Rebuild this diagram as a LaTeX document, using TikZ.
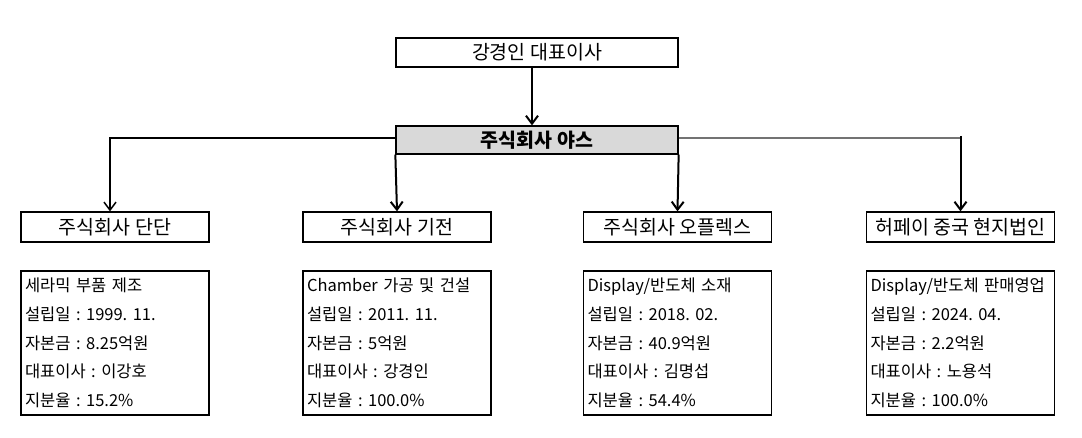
\documentclass[tikz,border=0pt]{standalone}
\usepackage{fontspec}
\setmainfont{Noto Sans CJK KR}
\newfontfamily\infofont[WordSpace=2.4]{Noto Sans CJK KR}
\usetikzlibrary{arrows.meta}

\begin{document}
\begin{tikzpicture}[
			x=1pt, y=-1pt,
			unit/.style={rectangle,draw=black,line width=1.3pt,inner sep=0pt,
			minimum width=188pt,minimum height=30pt,
			font=\fontsize{19.5pt}{24pt}\selectfont},
			info/.style={rectangle,draw=black,line width=1.3pt,inner ysep=0pt,inner xsep=4pt,
			text width=180pt,minimum height=144pt,align=left,
			font=\infofont\frenchspacing\fontsize{16.5pt}{28.75pt}\selectfont},
			link/.style={>={Straight Barb[length=8pt,width=12pt]},draw=black,line width=2pt,->},
			branch/.style={draw=black!55,line width=1.5pt}
			]
			\useasboundingbox (0,0) rectangle (1082,438);
			\node[unit, minimum width=282pt, minimum height=29pt] (ceo) at (537,52.5) {강경인 대표이사};
			\node[unit, minimum width=282pt, minimum height=28pt, fill=black!15,
				font=\fontsize{19.5pt}{24pt}\selectfont\bfseries] (yas) at (537,140) {주식회사 야스};
			\node[unit] (dandan) at (115,227) {주식회사 단단};
			\node[unit] (kijeon) at (397,227) {주식회사 기전};
			\node[unit] (oplex) at (677.5,227) {주식회사 오플렉스};
			\node[unit] (hefei) at (960.5,227) {허페이 중국 현지법인};
			\node[info] (dandaninfo) at (115,343) {세라믹 부품 제조\\설립일 : 1999. 11.\\자본금 : 8.25억원\\대표이사 : 이강호\\지분율 : 15.2\%};
			\node[info] (kijeoninfo) at (397,343) {Chamber 가공 및 건설\\설립일 : 2011. 11.\\자본금 : 5억원\\대표이사 : 강경인\\지분율 : 100.0\%};
			\node[info] (oplexinfo) at (677.5,343) {Display/반도체 소재\\설립일 : 2018. 02.\\자본금 : 40.9억원\\대표이사 : 김명섭\\지분율 : 54.4\%};
			\node[info] (hefeiinfo) at (960.5,343) {Display/반도체 판매영업\\설립일 : 2024. 04.\\자본금 : 2.2억원\\대표이사 : 노용석\\지분율 : 100.0\%};
			\draw[link] ([xshift=-5pt]ceo.south) -- ([xshift=-5pt]yas.north);
			\draw[link, line width=1.5pt] ([yshift=2pt]yas.west) -| ([xshift=-5pt]dandan.north);
			\draw[link] (yas.south west) -- (kijeon.north);
			\draw[link] (yas.south east) -- (oplex.north);
			\draw[branch] ([yshift=2pt]yas.east) -- ([yshift=2pt]yas.east -| hefei.north);
			\coordinate (hefeitop) at ([yshift=4pt]yas.east -| hefei.north);
			\draw[link] (hefeitop) -- (hefei.north);
		\end{tikzpicture}
\end{document}
